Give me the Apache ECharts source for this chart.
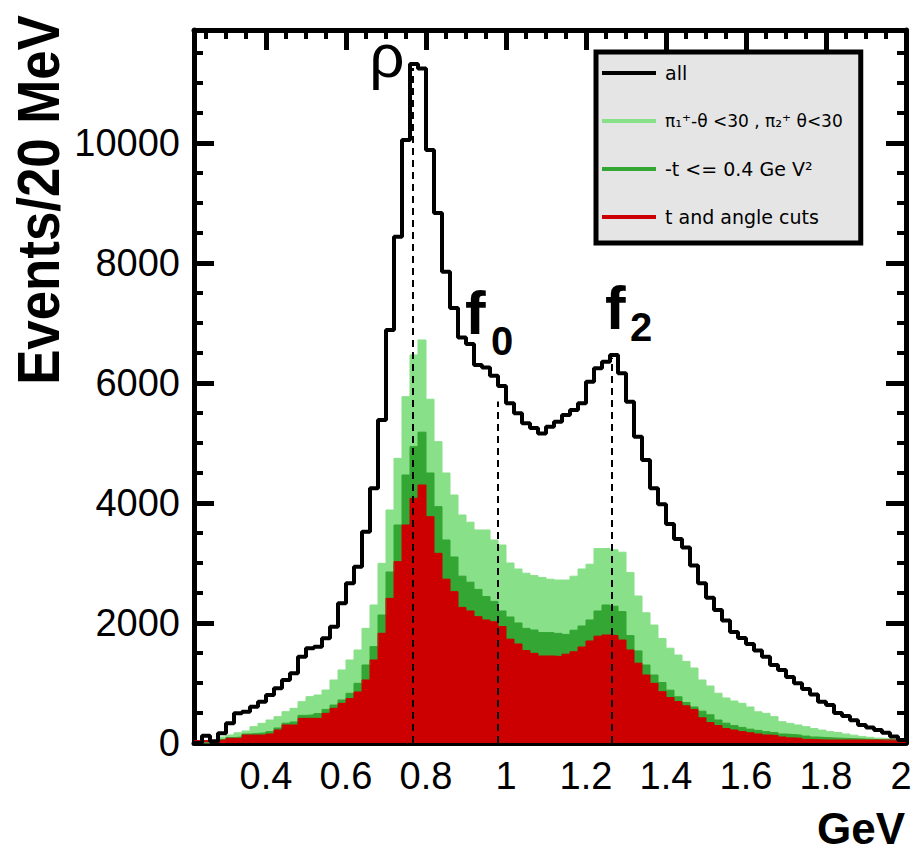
<!DOCTYPE html>
<html><head><meta charset="utf-8">
<script src="https://cdn.jsdelivr.net/npm/echarts@6/dist/echarts.min.js"></script>
<style>html,body{margin:0;padding:0;background:#fff}#c{width:913px;height:855px}</style>
</head><body><div id="c"></div>
<script>
// histogram binning (GeV)
const binLow = 0.22;
const binWidth = 0.02;

// events per 20 MeV bin, 89 bins from 0.22 to 2.00 GeV
const allEvents = [0,120,30,161,328,494,522,606,689,800,
  911,1050,1161,1439,1578,1606,1744,1939,2328,2661,
  2939,3522,4244,5383,6883,8439,10050,11317,11240,9883,
  8833,7855,7250,6760,6650,6300,6260,6120,5950,5661,
  5494,5328,5250,5160,5272,5355,5466,5550,5661,6022,
  6244,6355,6466,6161,5689,5105,4716,4244,3980,3650,
  3400,3260,2960,2661,2420,2216,2040,1850,1750,1650,
  1540,1439,1300,1216,1100,994,900,810,688,633,
  500,450,380,300,260,216,172,110,50];
const angleCut = [0,0,40,100,133,170,200,272,328,383,
  439,522,578,689,772,800,883,1050,1217,1383,
  1550,1911,2300,2994,3883,4744,5772,6467,6717,5730,
  5022,4500,4133,3800,3680,3550,3550,3383,3300,3000,
  2900,2830,2790,2760,2730,2716,2716,2780,2900,2980,
  3240,3244,3220,3180,2840,2450,2170,1966,1740,1580,
  1466,1360,1250,1050,950,830,750,700,661,600,
  520,494,439,355,327,300,272,240,215,189,
  175,150,130,110,95,80,70,60,50];
const tCut = [0,0,30,60,90,100,150,160,170,190,
  250,330,350,460,470,490,560,633,717,828,
  994,1300,1606,2133,2850,3633,4467,4939,5180,4500,
  3939,3383,3100,2780,2680,2560,2440,2360,2200,2100,
  2000,1910,1883,1840,1840,1827,1810,1880,1950,2050,
  2200,2300,2280,2190,1790,1535,1300,1133,1008,880,
  770,675,600,530,470,383,330,290,260,230,
  210,189,175,150,140,130,115,100,90,85,
  80,75,70,65,60,55,52,50,50];
const tAngleCut = [40,40,45,50,78,78,133,133,133,150,
  217,300,300,411,411,411,494,578,661,740,
  850,1050,1383,1828,2411,3022,3633,4078,4300,3772,
  3161,2730,2522,2260,2200,2105,2050,2020,1940,1730,
  1650,1540,1494,1450,1450,1440,1480,1520,1600,1700,
  1780,1800,1790,1716,1550,1330,1133,994,855,758,
  690,620,560,420,340,290,240,216,190,170,
  150,133,125,100,85,78,60,55,50,50,
  50,50,50,50,50,50,50,50,50];

const seriesNames = ['all', 'π₁⁺-θ <30 , π₂⁺ θ<30', '-t <= 0.4 Ge V²', 't and angle cuts'];
const xTickValues = [0.4, 0.6, 0.8, 1.0, 1.2, 1.4, 1.6, 1.8, 2.0];
const xMinorTickValues = [0.25,0.3,0.35,0.45,0.5,0.55,0.65,0.7,0.75,0.85,0.9,0.95,
  1.05,1.1,1.15,1.25,1.3,1.35,1.45,1.5,1.55,1.65,1.7,1.75,1.85,1.9,1.95];
const yTickValues = [2000, 4000, 6000, 8000, 10000];
const yMinorTickValues = [500,1000,1500,2500,3000,3500,4500,5000,5500,6500,7000,7500,
  8500,9000,9500,10500,11000,11500];
const resonanceMass = [0.7675, 0.98, 1.265];
const resonanceTop = [11250, 5690, 6420];
const xMin = 0.22, xMax = 2.0, yMax = 11883;

const FONT = 'Liberation Sans, Arial, Helvetica, sans-serif';
const LFONT = 'DejaVu Sans, Verdana, sans-serif';
const C_LG = '#88e088', C_DG = '#33a633', C_RED = '#cc0000';

function steps(vals) {
  const pts = vals.map((v, i) => [+(binLow + i * binWidth).toFixed(2), v]);
  pts.push([+(binLow + vals.length * binWidth).toFixed(2), vals[vals.length - 1]]);
  return pts;
}

// inside tick marks on the left/right/top frame (ROOT style), as fractions of the axis length
const MAJ = 20 / 712, MIN = 9 / 712;
const tx = MAJ * (xMax - xMin), txm = MIN * (xMax - xMin);
const ty = MAJ * yMax, tym = MIN * yMax;
function seg(x1, y1, x2, y2, w) {
  const ls = {type: 'solid', width: w, color: '#000'};
  return [{coord: [x1, y1], lineStyle: ls}, {coord: [x2, y2], lineStyle: ls}];
}
const tickLines = [];
yTickValues.forEach(v => { tickLines.push(seg(xMin, v, xMin + tx, v, 5), seg(xMax, v, xMax - tx, v, 5)); });
yMinorTickValues.forEach(v => { tickLines.push(seg(xMin, v, xMin + txm, v, 4), seg(xMax, v, xMax - txm, v, 4)); });
xTickValues.filter(v => v < xMax).forEach(v => { tickLines.push(seg(v, yMax, v, yMax - ty, 5)); });
xMinorTickValues.forEach(v => { tickLines.push(seg(v, yMax, v, yMax - tym, 4)); });

const resonanceLines = resonanceMass.map((m, i) => [{coord: [m, 0]}, {coord: [m, resonanceTop[i]]}]);

const chart = echarts.init(document.getElementById('c'), null, {renderer: 'svg'});

const axisLine = () => ({show: true, onZero: false, lineStyle: {color: '#000', width: 5}});
function fillSeries(name, vals, color) {
  return {
    type: 'line', name: name, data: steps(vals), step: 'end',
    showSymbol: false, symbol: 'none', silent: true, animation: false,
    lineStyle: {color: color, width: 1}, itemStyle: {color: color},
    areaStyle: {color: color, opacity: 1}
  };
}

chart.setOption({
  animation: false,
  grid: {left: 194, right: 7, top: 30, bottom: 112, containLabel: false, outerBoundsMode: 'none'},
  legend: {
    data: seriesNames, orient: 'vertical', left: 596, top: 52,
    padding: [11, 18, 16, 6], backgroundColor: '#e5e5e5', borderColor: '#000', borderWidth: 5,
    icon: 'rect', itemWidth: 54, itemHeight: 4, itemGap: 28, selectedMode: false,
    formatter: n => (n === seriesNames[1] ? '{s|' + n + '}' : n),
    textStyle: {fontSize: 19, lineHeight: 20, fontFamily: LFONT, color: '#000', padding: [0, 0, 0, 4],
      rich: {s: {fontSize: 17, lineHeight: 20, fontFamily: LFONT, color: '#000'}}}
  },
  xAxis: [
    {type: 'value', min: xMin, max: xMax, position: 'bottom', axisLine: axisLine(),
     axisTick: {show: false}, splitLine: {show: false},
     axisLabel: {customValues: xTickValues, fontSize: 38, color: '#000', fontFamily: FONT, margin: 14,
       formatter: v => (Math.abs(v - 2) < 1e-6 ? '{r|2}' : String(+(+v).toFixed(2))),
       rich: {r: {fontSize: 38, color: '#000', fontFamily: FONT, padding: [0, 10, 0, 0]}}}},
    {type: 'value', min: xMin, max: xMax, position: 'top', axisLine: axisLine(),
     axisTick: {show: false}, axisLabel: {show: false}, splitLine: {show: false}}
  ],
  yAxis: [
    {type: 'value', min: 0, max: yMax, interval: 2000, position: 'left', axisLine: axisLine(),
     axisTick: {show: false}, splitLine: {show: false},
     axisLabel: {fontSize: 38, color: '#000', fontFamily: FONT, margin: 14, showMaxLabel: false,
       formatter: v => String(Math.round(v))}},
    {type: 'value', min: 0, max: yMax, interval: 2000, position: 'right', axisLine: axisLine(),
     axisTick: {show: false}, splitLine: {show: false}, axisLabel: {show: false}}
  ],
  series: [
    fillSeries(seriesNames[1], angleCut, C_LG),
    fillSeries(seriesNames[2], tCut, C_DG),
    fillSeries(seriesNames[3], tAngleCut, C_RED),
    {
      type: 'line', name: seriesNames[0], data: steps(allEvents), step: 'end',
      showSymbol: false, symbol: 'none', silent: true, animation: false,
      lineStyle: {color: '#000', width: 4}, itemStyle: {color: '#000'},
      markLine: {
        silent: true, symbol: ['none', 'none'], label: {show: false}, animation: false,
        lineStyle: {color: '#000', width: 2, type: [7, 5]},
        data: resonanceLines.concat(tickLines)
      }
    }
  ]
});

// annotations anchored to the resonance marks
const P = resonanceMass.map((m, i) => chart.convertToPixel({xAxisIndex: 0, yAxisIndex: 0}, [m, resonanceTop[i]]));
const txt = (t, x, y, font, align) => ({type: 'text', x: x, y: y, silent: true,
  style: {text: t, font: font, fill: '#000', align: align || 'left', verticalAlign: 'middle'}});
chart.setOption({
  graphic: [
    txt('ρ', P[0][0] - 26, P[0][1] - 12, '62px ' + FONT, 'center'),
    txt('f', P[1][0] - 33, P[1][1] - 89, 'bold 62px ' + FONT),
    txt('0', P[1][0] - 7, P[1][1] - 61, 'bold 40px ' + FONT),
    txt('f', P[2][0] - 7, P[2][1] - 50, 'bold 62px ' + FONT),
    txt('2', P[2][0] + 18, P[2][1] - 31, 'bold 40px ' + FONT),
    {type: 'text', x: 38, y: 200, rotation: Math.PI / 2, scaleX: 0.88, silent: true,
     style: {text: 'Events/20 MeV', font: 'bold 60px ' + FONT, fill: '#000', align: 'center', verticalAlign: 'middle'}},
    {type: 'text', x: 905, y: 828, silent: true,
     style: {text: 'GeV', font: 'bold 44px ' + FONT, fill: '#000', align: 'right', verticalAlign: 'middle'}}
  ]
});
</script></body></html>
